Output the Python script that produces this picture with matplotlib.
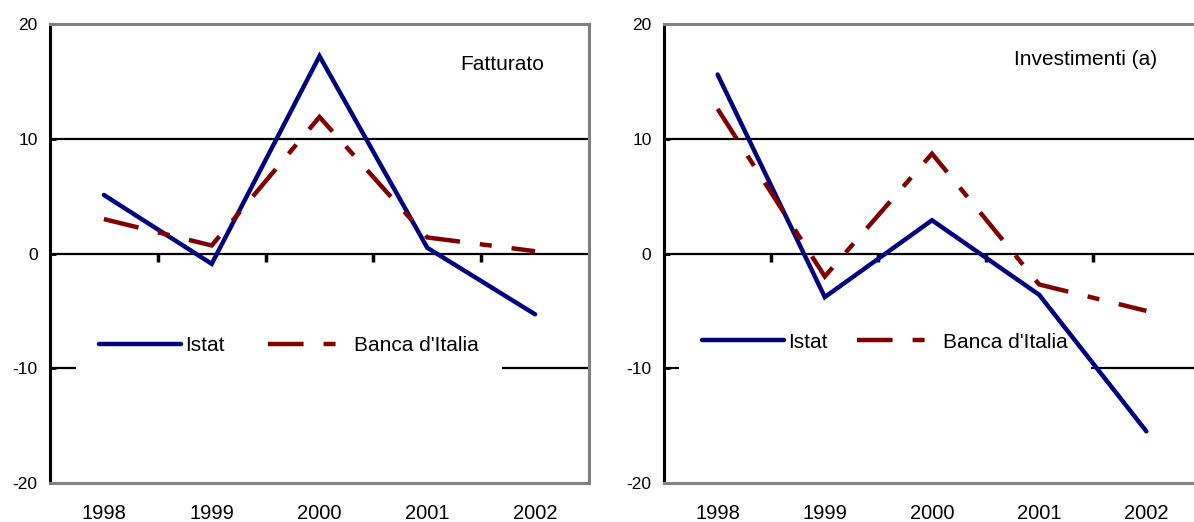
import matplotlib

matplotlib.use("Agg")

import matplotlib.pyplot as plt  # noqa: E402

plt.rcParams["font.family"] = ["Liberation Sans", "DejaVu Sans"]
plt.rcParams["axes.unicode_minus"] = False

# Data (percent changes)
years = ["1998", "1999", "2000", "2001", "2002"]
fatturato_istat = [5.1, -0.9, 17.2, 0.5, -5.3]
fatturato_bdi = [3.0, 0.7, 11.9, 1.4, 0.2]
invest_istat = [15.6, -3.8, 2.9, -3.6, -15.5]
invest_bdi = [12.6, -2.0, 8.7, -2.7, -5.0]

panel_titles = ["Fatturato", "Investimenti (a)"]
series_labels = ["Istat", "Banca d'Italia"]
y_ticks = [-20, -10, 0, 10, 20]

ISTAT_COLOR = "#000080"
BDI_COLOR = "#800000"
FRAME_GRAY = "#808080"
LINE_W = 3.2
BDI_DASH = (0, (8.0, 4.5, 2.7, 4.5))

fig = plt.figure(figsize=(11.94, 5.22), dpi=100, facecolor="white")
ax_left = fig.add_axes([50 / 1194, 0.0747, 539 / 1194, 0.8793])
ax_right = fig.add_axes([664 / 1194, 0.0747, 536 / 1194, 0.8793])


def draw_panel(ax, istat, bdi, title, title_xy, legend_anchor, col_spacing):
    x = list(range(len(years)))
    ax.set_xlim(-0.5, len(years) - 0.5)
    ax.set_ylim(y_ticks[0], y_ticks[-1])

    # horizontal grid at every tick
    for yv in y_ticks[1:-1]:
        ax.axhline(yv, color="black", linewidth=1.6, zorder=1)

    ax.plot(x, istat, color=ISTAT_COLOR, linewidth=LINE_W,
            solid_capstyle="round", solid_joinstyle="miter",
            label=series_labels[0], zorder=3)
    ax.plot(x, bdi, color=BDI_COLOR, linewidth=LINE_W, linestyle=BDI_DASH,
            dash_capstyle="butt", dash_joinstyle="miter",
            label=series_labels[1], zorder=3)

    ax.set_yticks(y_ticks)
    ax.set_yticklabels([str(v) for v in y_ticks], fontsize=12.5)
    ax.tick_params(axis="y", direction="in", length=4, width=2, pad=9,
                   colors="black")

    ax.set_xticks(x)
    ax.set_xticklabels(years, fontsize=14.5)
    ax.tick_params(axis="x", length=0, pad=15, colors="black")

    # category separators hanging from the zero line
    sec = ax.secondary_xaxis(0.5)
    sec.set_xticks([i + 0.5 for i in x[:-1]])
    sec.set_xticklabels([])
    sec.tick_params(axis="x", which="both", direction="in", length=6,
                    width=2.5, colors="black", labeltop=False,
                    labelbottom=False)
    for side in sec.spines:
        sec.spines[side].set_visible(False)

    ax.spines["left"].set_color("black")
    ax.spines["left"].set_linewidth(2.2)
    for side in ("top", "right", "bottom"):
        ax.spines[side].set_color(FRAME_GRAY)
        ax.spines[side].set_linewidth(2.2)

    ax.text(title_xy[0], title_xy[1], title, transform=ax.transAxes,
            ha="right", va="baseline", fontsize=15, color="black")

    leg = ax.legend(loc="center left", bbox_to_anchor=legend_anchor, ncol=2,
                    fontsize=15, frameon=True, fancybox=False,
                    facecolor="white", edgecolor="none", framealpha=1,
                    handlelength=3.94, handletextpad=0.2,
                    columnspacing=col_spacing, borderpad=1.1,
                    borderaxespad=0)
    leg.set_zorder(2)


draw_panel(ax_left, fatturato_istat, fatturato_bdi, panel_titles[0],
           (0.9165, 0.8998), (0.048, 0.30), 2.07)
draw_panel(ax_right, invest_istat, invest_bdi, panel_titles[1],
           (0.92, 0.9107), (0.028, 0.307), 1.4)

fig.savefig("out.png", dpi=100, facecolor="white")
